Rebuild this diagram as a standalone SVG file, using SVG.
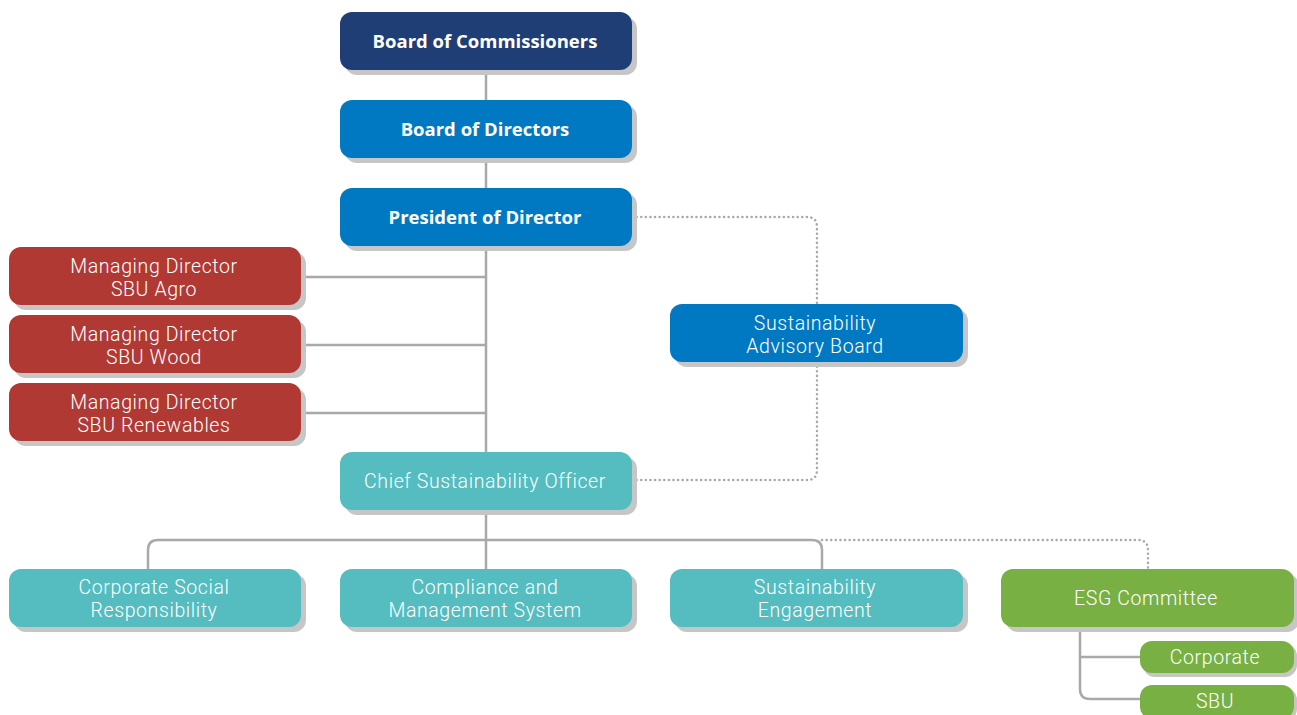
<svg xmlns="http://www.w3.org/2000/svg" width="1297" height="715" viewBox="0 0 1297 715">
<style>
.sh{fill:#c6c6c6}
.t{font-family:Roboto,"Liberation Sans",sans-serif;fill:#fff;text-anchor:middle;font-size:19.5px;font-weight:300;letter-spacing:0.6px}
.b{font-family:"Open Sans","Liberation Sans",sans-serif;font-weight:bold;font-size:18.5px;letter-spacing:0}
.ln{fill:none;stroke:#a7a9ac;stroke-width:2.5}
.dt{fill:none;stroke:#a7a9ac;stroke-width:2.5;stroke-dasharray:0.1 4.5;stroke-linecap:round}
.navy{fill:#1f3e76}.blue{fill:#0079c2}.red{fill:#b03934}.teal{fill:#55bcbf}.green{fill:#78b043}
</style>
<rect width="1297" height="715" fill="#fff"/>
<g id="connectors">
<path class="ln" d="M486 70 V569"/>
<path class="ln" d="M301 277 H486 M301 345 H486 M301 413 H486"/>
<path class="ln" d="M148 569 V550 Q148 540 158 540 H812 Q822 540 822 550 V569"/>
<path class="dt" d="M632 217 H807 Q817 217 817 227 V304"/>
<path class="dt" d="M817 362 V470 Q817 480 807 480 H632"/>
<path class="dt" d="M822 540 H1138 Q1148 540 1148 550 V569"/>
<path class="ln" d="M1080 627 V689 Q1080 699 1090 699 H1140 M1080 657 H1140"/>
</g>
<g id="n1"><rect class="sh" x="345" y="17" width="292" height="58" rx="12"/><rect class="navy" x="340" y="12" width="292" height="58" rx="12"/><text class="t b" x="485" y="48">Board of Commissioners</text></g>
<g id="n2"><rect class="sh" x="345" y="105" width="292" height="58" rx="12"/><rect class="blue" x="340" y="100" width="292" height="58" rx="12"/><text class="t b" x="485" y="136">Board of Directors</text></g>
<g id="n3"><rect class="sh" x="345" y="193" width="292" height="58" rx="12"/><rect class="blue" x="340" y="188" width="292" height="58" rx="12"/><text class="t b" x="485" y="224">President of Director</text></g>
<g id="n4"><rect class="sh" x="14" y="252" width="292" height="58" rx="12"/><rect class="red" x="9" y="247" width="292" height="58" rx="12"/><text class="t" x="154" y="272.5">Managing Director<tspan x="154" dy="23">SBU Agro</tspan></text></g>
<g id="n5"><rect class="sh" x="14" y="320" width="292" height="58" rx="12"/><rect class="red" x="9" y="315" width="292" height="58" rx="12"/><text class="t" x="154" y="340.5">Managing Director<tspan x="154" dy="23">SBU Wood</tspan></text></g>
<g id="n6"><rect class="sh" x="14" y="388" width="292" height="58" rx="12"/><rect class="red" x="9" y="383" width="292" height="58" rx="12"/><text class="t" x="154" y="408.5">Managing Director<tspan x="154" dy="23">SBU Renewables</tspan></text></g>
<g id="n7"><rect class="sh" x="675" y="309" width="293" height="58" rx="12"/><rect class="blue" x="670" y="304" width="293" height="58" rx="12"/><text class="t" x="815" y="329.5">Sustainability<tspan x="815" dy="23">Advisory Board</tspan></text></g>
<g id="n8"><rect class="sh" x="345" y="457" width="292" height="58" rx="12"/><rect class="teal" x="340" y="452" width="292" height="58" rx="12"/><text class="t" x="485" y="488">Chief Sustainability Officer</text></g>
<g id="n9"><rect class="sh" x="14" y="574" width="292" height="58" rx="12"/><rect class="teal" x="9" y="569" width="292" height="58" rx="12"/><text class="t" x="154" y="593.5">Corporate Social<tspan x="154" dy="23">Responsibility</tspan></text></g>
<g id="n10"><rect class="sh" x="345" y="574" width="292" height="58" rx="12"/><rect class="teal" x="340" y="569" width="292" height="58" rx="12"/><text class="t" x="485" y="593.5">Compliance and<tspan x="485" dy="23">Management System</tspan></text></g>
<g id="n11"><rect class="sh" x="675" y="574" width="293" height="58" rx="12"/><rect class="teal" x="670" y="569" width="293" height="58" rx="12"/><text class="t" x="815" y="593.5">Sustainability<tspan x="815" dy="23">Engagement</tspan></text></g>
<g id="n12"><rect class="sh" x="1006" y="574" width="293" height="58" rx="12"/><rect class="green" x="1001" y="569" width="293" height="58" rx="12"/><text class="t" x="1146" y="605">ESG Committee</text></g>
<g id="n13"><rect class="sh" x="1143" y="644" width="154" height="33" rx="12"/><rect class="green" x="1140" y="641" width="154" height="32" rx="12"/><text class="t" x="1215" y="664">Corporate</text></g>
<g id="n14"><rect class="sh" x="1143" y="688" width="154" height="33" rx="12"/><rect class="green" x="1140" y="685" width="154" height="34" rx="12"/><text class="t" x="1215" y="708">SBU</text></g>
</svg>
